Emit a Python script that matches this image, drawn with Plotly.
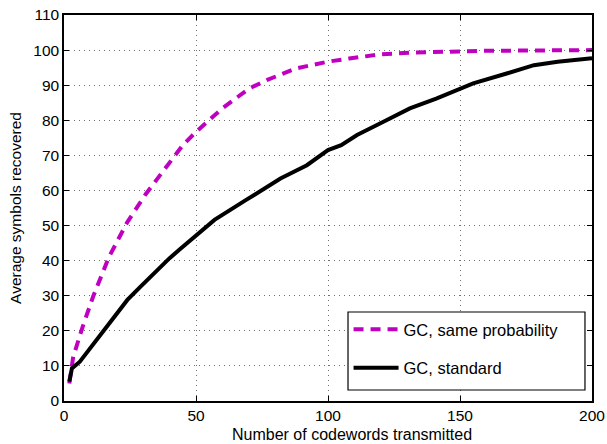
import plotly.graph_objects as go

# Average symbols recovered vs. codewords transmitted
x_same = [2, 3.5, 7, 11, 17, 24, 31, 38, 45, 50, 60, 70, 77, 88, 100, 108,
          120, 133, 145, 160, 180, 200]
y_same = [5, 12.6, 21, 29.7, 41, 51, 59, 66, 72.9, 76.7, 83.4, 89, 91.5, 94.8,
          96.7, 97.6, 98.8, 99.3, 99.6, 99.8, 99.9, 100]

x_std = [2, 3, 6, 10.5, 15, 20, 24, 29, 34, 40, 44, 51, 57, 69, 82, 92, 100,
         105, 111, 121, 131, 141, 146, 155, 168, 178, 187, 200]
y_std = [5.5, 9.3, 11.2, 15.5, 20.2, 25, 28.8, 32.6, 36.4, 40.7, 43.3, 47.8,
         51.6, 57.3, 63.4, 67.2, 71.5, 72.9, 75.8, 79.6, 83.4, 86.2, 87.7, 90.5,
         93.4, 95.7, 96.7, 97.7]

x_ticks = [0, 50, 100, 150, 200]
y_ticks = list(range(0, 111, 10))

FONT = "Liberation Sans, Arial, sans-serif"

fig = go.Figure()
fig.add_trace(go.Scatter(
    x=x_same, y=y_same, mode="lines", name="GC, same probability",
    legendgroup="same",
    line=dict(color="#c000c0", width=4, dash="10px,7px"),
))
fig.add_trace(go.Scatter(
    x=x_std, y=y_std, mode="lines", name="GC, standard",
    legendgroup="std",
    line=dict(color="black", width=4),
))

axis_common = dict(
    showline=True, linecolor="black", linewidth=1.5, mirror="ticks",
    ticks="inside", ticklen=5, tickcolor="black", automargin=False,
    showgrid=True, gridcolor="#707070", griddash="1px,4px", gridwidth=1,
    zeroline=False, tickfont=dict(family=FONT, size=15.5, color="black"),
)

fig.update_xaxes(range=[0, 200], tickvals=x_ticks, **axis_common)
fig.update_yaxes(range=[0, 110], tickvals=y_ticks,
                 title=dict(text="Average symbols recovered",
                            font=dict(family=FONT, size=15.5, color="black"),
                            standoff=8),
                 **axis_common)

# x-axis label
fig.add_annotation(
    text="Number of codewords transmitted", xref="paper", yref="paper",
    x=0.545, y=0, yshift=-23, xanchor="center", yanchor="top",
    showarrow=False, font=dict(family=FONT, size=16, color="black"),
)

# legend frame (white box that covers the grid behind the legend)
LEG_X0, LEG_X1, LEG_Y0, LEG_Y1 = 0.5379, 0.9867, 0.0285, 0.2306
fig.add_shape(
    type="rect", xref="paper", yref="paper",
    x0=LEG_X0, x1=LEG_X1, y0=LEG_Y0, y1=LEG_Y1,
    fillcolor="white", line=dict(color="black", width=1.2), layer="above",
)

fig.update_layout(
    width=607, height=444,
    margin=dict(l=64, r=15, t=15, b=43),
    plot_bgcolor="white", paper_bgcolor="white",
    font=dict(family=FONT, color="black"),
    legend=dict(
        x=LEG_X0 + 0.001, y=LEG_Y1, xanchor="left", yanchor="top",
        bgcolor="rgba(0,0,0,0)", borderwidth=0,
        font=dict(family=FONT, size=16.5, color="black"),
        traceorder="grouped", tracegroupgap=14, itemwidth=45,
    ),
)

fig.write_html("out.html")
